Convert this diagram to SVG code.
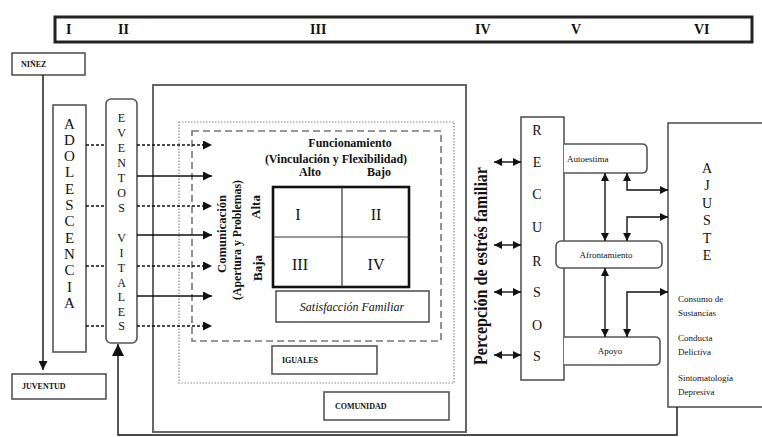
<svg xmlns="http://www.w3.org/2000/svg" width="762" height="437" viewBox="0 0 762 437" font-family="'Liberation Serif', 'Times New Roman', 'DejaVu Serif', serif">
<style>
text{font-family:'Liberation Serif','Times New Roman','DejaVu Serif',serif;fill:#111}
.box{fill:#fff;stroke:#555;stroke-width:1.6}
.lbl{font-size:8px;font-weight:bold}
.vl{font-size:14px;text-anchor:middle}
.sm{font-size:9px}
.b{font-weight:bold}
.ln{stroke:#111;stroke-width:1.4;fill:none}
.dl{stroke:#111;stroke-width:1.4;fill:none;stroke-dasharray:3 2}
</style>
<defs>
<marker id="ah" viewBox="0 0 10 10" refX="10" refY="5" markerWidth="9" markerHeight="9" markerUnits="userSpaceOnUse" orient="auto-start-reverse"><path d="M0,0 L10,5 L0,10 z" fill="#111"/></marker>
<marker id="ah2" viewBox="0 0 10 10" refX="10" refY="5" markerWidth="8" markerHeight="8" markerUnits="userSpaceOnUse" orient="auto-start-reverse"><path d="M0,0 L10,5 L0,10 z" fill="#111"/></marker>
<marker id="ahb" viewBox="0 0 10 10" refX="10" refY="5" markerWidth="12" markerHeight="12" markerUnits="userSpaceOnUse" orient="auto-start-reverse"><path d="M0,0 L10,5 L0,10 z" fill="#111"/></marker>
</defs>
<rect width="762" height="437" fill="#fff"/>

<g id="header">
<rect x="55" y="17" width="697" height="25" fill="#fff" stroke="#222" stroke-width="3"/>
<g font-size="14" class="b">
<text x="66" y="34">I</text>
<text x="118" y="34">II</text>
<text x="310" y="34">III</text>
<text x="475" y="34">IV</text>
<text x="571" y="34">V</text>
<text x="694" y="34">VI</text>
</g>
</g>

<g id="ninez"><rect class="box" x="12" y="53" width="73" height="22"/><text class="lbl" x="21" y="67">NIÑEZ</text></g>
<g id="juventud"><rect class="box" x="12" y="374" width="94" height="25"/><text class="lbl" x="22" y="389">JUVENTUD</text></g>

<g id="adolescencia"><rect class="box" x="53" y="105" width="33" height="247"/>
<g class="vl" style="font-size:15px"><text x="69.5" y="129">A</text><text x="69.5" y="145">D</text><text x="69.5" y="161">O</text><text x="69.5" y="177">L</text><text x="69.5" y="194">E</text><text x="69.5" y="210">S</text><text x="69.5" y="226">C</text><text x="69.5" y="243">E</text><text x="69.5" y="259">N</text><text x="69.5" y="275">C</text><text x="69.5" y="292">I</text><text x="69.5" y="308">A</text></g></g>

<g id="eventos"><rect class="box" x="106" y="99" width="31" height="244" rx="5"/>
<g class="vl" style="font-size:12px"><text x="121.5" y="122">E</text><text x="121.5" y="137">V</text><text x="121.5" y="152">E</text><text x="121.5" y="167">N</text><text x="121.5" y="182">T</text><text x="121.5" y="197">O</text><text x="121.5" y="212">S</text><text x="121.5" y="242">V</text><text x="121.5" y="257">I</text><text x="121.5" y="272">T</text><text x="121.5" y="287">A</text><text x="121.5" y="301">L</text><text x="121.5" y="316">E</text><text x="121.5" y="330">S</text></g></g>

<g id="contexto">
<rect x="153" y="85" width="313" height="347" fill="none" stroke="#666" stroke-width="2"/>
<rect x="179" y="122" width="275" height="261" fill="none" stroke="#888" stroke-width="1.2" stroke-dasharray="1.5 1.5"/>
<rect x="192" y="131" width="249" height="210" fill="none" stroke="#777" stroke-width="1.6" stroke-dasharray="7 4"/>
</g>

<g id="funcionamiento" class="b" font-size="12" text-anchor="middle">
<text x="350" y="147">Funcionamiento</text>
<text x="336" y="163">(Vinculación y Flexibilidad)</text>
<text x="310" y="176">Alto</text>
<text x="379" y="176">Bajo</text>
</g>

<g id="comunicacion" class="b" font-size="13" text-anchor="middle">
<text x="226" y="234" transform="rotate(-90 226 234)" textLength="78" lengthAdjust="spacingAndGlyphs">Comunicación</text>
<text x="241" y="240" transform="rotate(-90 241 240)" textLength="120" lengthAdjust="spacingAndGlyphs">(Apertura y Problemas)</text>
<text x="260" y="207" transform="rotate(-90 260 207)">Alta</text>
<text x="262" y="268" transform="rotate(-90 262 268)">Baja</text>
</g>

<g id="grid">
<rect x="273" y="187" width="136" height="100" fill="#fff" stroke="#111" stroke-width="2.6"/>
<line x1="342" y1="187" x2="342" y2="287" stroke="#333" stroke-width="1.2"/>
<line x1="273" y1="237" x2="409" y2="237" stroke="#333" stroke-width="1.2"/>
<g font-size="16" text-anchor="middle"><text x="298" y="220">I</text><text x="376" y="220">II</text><text x="300" y="270">III</text><text x="376" y="270">IV</text></g>
</g>

<g id="satisfaccion"><rect class="box" x="276" y="291" width="153" height="31"/><text x="352" y="311" font-size="12" font-style="italic" text-anchor="middle">Satisfacción Familiar</text></g>
<g id="iguales"><rect class="box" x="272" y="346" width="105" height="28"/><text class="lbl" x="282" y="363">IGUALES</text></g>
<g id="comunidad"><rect class="box" x="324" y="392" width="125" height="28"/><text class="lbl" x="335" y="409">COMUNIDAD</text></g>

<g id="percepcion"><text x="487" y="266" transform="rotate(-90 487 266)" font-size="18" class="b" text-anchor="middle" textLength="198" lengthAdjust="spacingAndGlyphs">Percepción de estrés familiar</text></g>

<g id="recursos"><rect class="box" x="521" y="117" width="43" height="263"/>
<g class="vl" style="font-size:14px"><text x="537" y="135">R</text><text x="537" y="167">E</text><text x="537" y="199">C</text><text x="537" y="232">U</text><text x="537" y="266">R</text><text x="537" y="297">S</text><text x="537" y="330">O</text><text x="537" y="361">S</text></g></g>

<g id="autoestima"><path class="box" d="M564,144 H642 Q647,144 647,149 V168 Q647,173 642,173 H564"/><text class="sm" x="567" y="162">Autoestima</text></g>
<g id="afrontamiento"><rect class="box" x="556" y="241" width="106" height="27" rx="5"/><text class="sm" x="606" y="258" text-anchor="middle">Afrontamiento</text></g>
<g id="apoyo"><path class="box" d="M564,337 H655 Q660,337 660,342 V360 Q660,365 655,365 H564"/><text class="sm" x="610" y="354" text-anchor="middle">Apoyo</text></g>

<g id="ajuste"><rect class="box" x="668" y="123" width="100" height="284"/>
<g class="vl" style="font-size:14px"><text x="707" y="173">A</text><text x="707" y="190">J</text><text x="707" y="208">U</text><text x="707" y="225">S</text><text x="707" y="243">T</text><text x="707" y="260">E</text></g>
<g class="sm"><text x="678" y="302">Consumo de</text><text x="678" y="316">Sustancias</text><text x="678" y="341">Conducta</text><text x="678" y="355">Delictiva</text><text x="678" y="381">Sintomatología</text><text x="678" y="395">Depresiva</text></g></g>

<g id="connectors">
<line class="ln" x1="43" y1="75" x2="43" y2="370" stroke-width="2" marker-end="url(#ah)"/>
<line class="dl" x1="86" y1="145" x2="106" y2="145"/>
<line class="dl" x1="86" y1="206" x2="106" y2="206"/>
<line class="dl" x1="86" y1="266" x2="106" y2="266"/>
<line class="dl" x1="86" y1="326" x2="106" y2="326"/>
<line class="dl" x1="137" y1="145" x2="212" y2="145" marker-end="url(#ah)"/>
<line class="ln" x1="137" y1="176" x2="212" y2="176" marker-end="url(#ah)"/>
<line class="dl" x1="137" y1="206" x2="212" y2="206" marker-end="url(#ah)"/>
<line class="ln" x1="137" y1="235" x2="212" y2="235" marker-end="url(#ah)"/>
<line class="dl" x1="137" y1="266" x2="212" y2="266" marker-end="url(#ah)"/>
<line class="ln" x1="137" y1="296" x2="212" y2="296" marker-end="url(#ah)"/>
<line class="dl" x1="137" y1="326" x2="212" y2="326" marker-end="url(#ah)"/>
<line class="ln" x1="494" y1="162" x2="521" y2="162" marker-start="url(#ah2)" marker-end="url(#ah2)"/>
<line class="ln" x1="494" y1="245" x2="521" y2="245" marker-start="url(#ah2)" marker-end="url(#ah2)"/>
<line class="ln" x1="494" y1="292" x2="521" y2="292" marker-start="url(#ah2)" marker-end="url(#ah2)"/>
<line class="ln" x1="494" y1="355" x2="521" y2="355" marker-start="url(#ah2)" marker-end="url(#ah2)"/>
<line class="ln" x1="605" y1="173" x2="605" y2="241" marker-start="url(#ah2)" marker-end="url(#ah2)"/>
<line class="ln" x1="605" y1="268" x2="605" y2="337" marker-start="url(#ah2)" marker-end="url(#ah2)"/>
<polyline class="ln" points="627,173 627,190 668,190" marker-start="url(#ah2)" marker-end="url(#ah2)"/>
<polyline class="ln" points="627,241 627,217 668,217" marker-start="url(#ah2)" marker-end="url(#ah2)"/>
<polyline class="ln" points="627,337 627,292 668,292" marker-start="url(#ah2)" marker-end="url(#ah2)"/>
<polyline class="ln" points="677,407 677,435 118,435 118,344" stroke-width="2.2" marker-end="url(#ahb)"/>
</g>
</svg>
